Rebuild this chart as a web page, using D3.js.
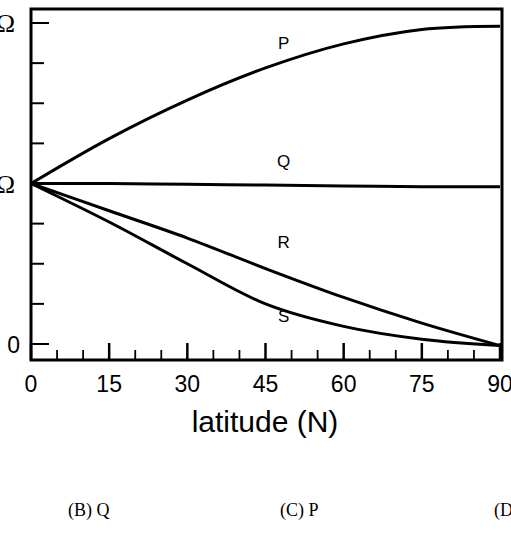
<!DOCTYPE html>
<html><head><meta charset="utf-8">
<script src="https://cdn.jsdelivr.net/npm/d3@7"></script>
<style>body{margin:0;background:#fff}svg{display:block}</style>
</head><body>
<svg id="c" width="511" height="541"></svg>
<script>
const lats = [0, 15, 30, 45, 60, 75, 90];
const seriesP = [1, 1.28, 1.52, 1.72, 1.87, 1.96, 1.98];
const seriesQ = [1, 1, 0.995, 0.99, 0.985, 0.98, 0.98];
const seriesR = [1, 0.83, 0.66, 0.47, 0.29, 0.13, -0.01];
const seriesS = [1, 0.76, 0.50, 0.25, 0.11, 0.03, -0.01];
const xTicks = [0, 15, 30, 45, 60, 75, 90];
const yLabels = [{v: 0, t: "0"}, {v: 1, t: "Ω"}, {v: 2, t: "Ω"}];
const curveLabels = [{n: "P", lat: 48.5, v: 1.84}, {n: "Q", lat: 48.5, v: 1.1}, {n: "R", lat: 48.5, v: 0.6}, {n: "S", lat: 48.5, v: 0.14}];
const answers = [{t: "(B) Q", x: 68}, {t: "(C)  P", x: 280}, {t: "(D", x: 494}];

const svg = d3.select("#c");
const x = d3.scaleLinear().domain([0, 90]).range([31, 500]);
const y = d3.scaleLinear().domain([0, 2]).range([344, 23]);
const yBottom = 360, yTop = 9, xRight = 502;

svg.append("path").attr("d", `M${x(0)},${yBottom}V${yTop}H${xRight}V${yBottom}Z`)
  .attr("fill", "none").attr("stroke", "#000").attr("stroke-width", 3);

d3.range(0, 2.01, 0.25).forEach(v => {
  const major = Math.abs(v - Math.round(v)) < 1e-6;
  svg.append("line").attr("x1", x(0)).attr("x2", x(0) + (major ? 18 : 13))
    .attr("y1", y(v)).attr("y2", y(v)).attr("stroke", "#000").attr("stroke-width", 2);
});
d3.range(0, 91, 5).forEach(v => {
  const major = v % 15 === 0;
  svg.append("line").attr("x1", x(v)).attr("x2", x(v)).attr("y1", yBottom)
    .attr("y2", yBottom - (major ? 17 : 10)).attr("stroke", "#000").attr("stroke-width", major ? 2.5 : 1.8);
});
xTicks.forEach(v => svg.append("text").attr("x", x(v)).attr("y", 392).attr("text-anchor", "middle")
  .attr("font-family", "Liberation Sans, Arial, sans-serif").attr("font-size", 23).text(v));
svg.append("text").attr("x", 265).attr("y", 432).attr("text-anchor", "middle")
  .attr("font-family", "Liberation Sans, Arial, sans-serif").attr("font-size", 30).text("latitude (N)");

yLabels.forEach(d => svg.append("text").attr("x", d.t === "0" ? 20 : 15).attr("y", y(d.v) + 9)
  .attr("text-anchor", "end").attr("font-family", d.t === "0" ? "Liberation Sans, sans-serif" : "Liberation Serif, serif")
  .attr("font-size", d.t === "0" ? 23 : 26).text(d.t));

const line = d3.line().x((d, i) => x(lats[i])).y(d => y(d)).curve(d3.curveCatmullRom);
[seriesP, seriesQ, seriesR, seriesS].forEach(s => svg.append("path").attr("d", line(s))
  .attr("fill", "none").attr("stroke", "#000").attr("stroke-width", 3));

curveLabels.forEach(d => svg.append("text").attr("x", x(d.lat)).attr("y", y(d.v)).attr("text-anchor", "middle")
  .attr("font-family", "Liberation Sans, Arial, sans-serif").attr("font-size", 17).text(d.n));

answers.forEach(d => svg.append("text").attr("x", d.x).attr("y", 516)
  .attr("font-family", "Liberation Serif, serif").attr("font-size", 18).text(d.t));
</script>
</body></html>
